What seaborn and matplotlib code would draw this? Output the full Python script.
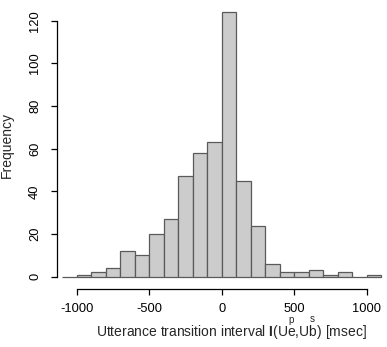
import numpy as np
import pandas as pd
import matplotlib
matplotlib.use("Agg")
import matplotlib.pyplot as plt
import seaborn as sns

# bin breaks (msec) and counts per bin
bin_edges = [-1100, -1000, -900, -800, -700, -600, -500, -400, -300, -200, -100,
             0, 100, 200, 300, 400, 500, 600, 700, 800, 900, 1000, 1100]
counts = [0, 1, 2, 4, 12, 10, 20, 27, 47, 58, 63,
          124, 45, 24, 6, 2, 2, 3, 1, 2, 0, 1]
x_ticks = [-1000, -500, 0, 500, 1000]
y_ticks = [0, 20, 40, 60, 80, 100, 120]


def apply_visual_settings():
    sns.set_style("ticks")
    plt.rcParams['font.family'] = ['Liberation Sans', 'DejaVu Sans']
    plt.rcParams['mathtext.fontset'] = 'custom'
    plt.rcParams['mathtext.rm'] = 'Liberation Sans'
    plt.rcParams['mathtext.it'] = 'Liberation Sans'
    plt.rcParams['mathtext.bf'] = 'Liberation Sans:bold'


def build_frame():
    edges = np.array(bin_edges, dtype=float)
    mids = (edges[:-1] + edges[1:]) / 2
    return pd.DataFrame({'interval': mids, 'count': counts})


def plot_hist(df):
    fig = plt.figure(figsize=(3.87, 3.47), dpi=100)
    ax = fig.add_axes([0.1465, 0.1671, 0.8527, 0.8329])

    sns.histplot(data=df, x='interval', weights='count', bins=list(bin_edges), ax=ax,
                 color="#cccccc", edgecolor="#5a5a5a", linewidth=0.9, alpha=1)

    ax.set_xlim(-1138, 1138)
    ax.set_ylim(-5.77, 129.7)

    sns.despine(ax=ax)
    ax.spines['left'].set_bounds(0, 120)
    ax.spines['bottom'].set_bounds(-1000, 1000)
    for s in ('left', 'bottom'):
        ax.spines[s].set_color('black')
        ax.spines[s].set_linewidth(0.9)

    ax.set_xticks(x_ticks)
    ax.set_xticklabels([str(v) for v in x_ticks])
    ax.set_yticks(y_ticks)
    ax.set_yticklabels([str(v) for v in y_ticks], rotation=90, va='center')
    ax.tick_params(axis='both', direction='out', length=4.3, width=0.9,
                   color='black', labelsize=9.3, labelcolor='black')
    ax.tick_params(axis='x', pad=6)
    ax.tick_params(axis='y', pad=7)

    ax.set_ylabel("Frequency", fontsize=10, labelpad=11)
    ax.set_xlabel(r"Utterance transition interval "
                  r"$\mathbf{I}(\mathrm{U}\overset{p}{\mathrm{e}}{,}"
                  r"\mathrm{U}\overset{s}{\mathrm{b}})$"
                  r" [msec]", fontsize=10)
    ax.xaxis.set_label_coords(0.53, -0.095)

    fig.savefig("out.png", dpi=100)
    plt.close(fig)


def main():
    apply_visual_settings()
    plot_hist(build_frame())


if __name__ == "__main__":
    main()
